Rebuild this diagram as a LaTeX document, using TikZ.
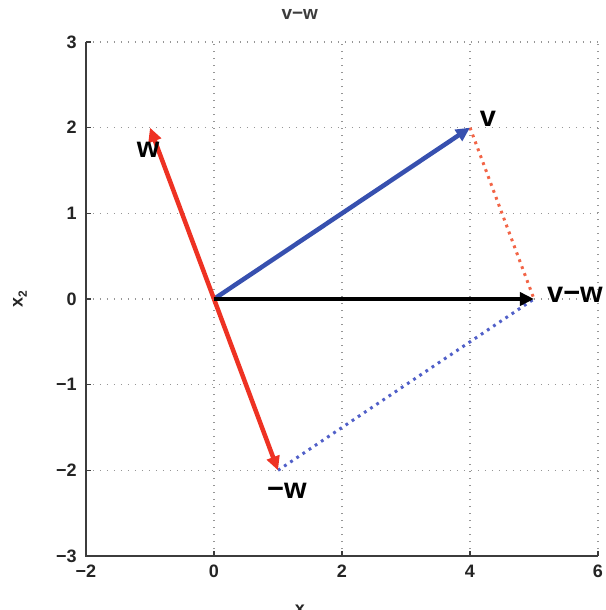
\documentclass[tikz,border=0pt]{standalone}
\usepackage{fontspec}
\setmainfont{Liberation Sans}
\usetikzlibrary{arrows.meta}
\definecolor{vblue}{RGB}{55,80,175}
\definecolor{wred}{RGB}{238,50,35}
\definecolor{dred}{RGB}{242,100,70}
\definecolor{dblue}{RGB}{80,95,200}
\definecolor{axisgray}{RGB}{60,60,60}
\definecolor{gridgray}{RGB}{150,150,150}
\tikzset{
  vec/.style={line width=4.5pt,-{Triangle[length=14pt,width=13pt]}},
  guide/.style={line width=3pt,dash pattern=on 2.8pt off 4.6pt},
  gridline/.style={gridgray,line width=1.2pt,dash pattern=on 1.2pt off 5.8pt},
  axisline/.style={axisgray,line width=1.6pt},
  ticklab/.style={font=\fontsize{18}{18}\selectfont\bfseries,text=axisgray!60!black},
  veclab/.style={font=\fontsize{29}{29}\selectfont\bfseries}
}
\begin{document}
\begin{tikzpicture}[x=64pt,y=85.67pt]
\useasboundingbox (-3.34375,-3.6302) rectangle (6.125,3.4902);
% grid
\foreach \gx in {0,2,4,6} \draw[gridline] (\gx,-3) -- (\gx,3);
\foreach \gy in {-2,-1,0,1,2,3} \draw[gridline] (-2,\gy) -- (6,\gy);
% axes
\draw[axisline] (-2,3) -- (-2,-3) -- (6,-3);
\foreach \gx in {0,2,4,6} \draw[axisline] (\gx,-3) -- ++(0,5pt);
\foreach \gy in {-2,-1,0,1,2,3} \draw[axisline] (-2,\gy) -- ++(5pt,0);
% tick labels
\foreach \gx/\t in {-2/−2,0/0,2/2,4/4,6/6} \node[ticklab,anchor=north] (xt\gx) at (\gx,-3.06) {\t};
\foreach \gy/\t in {-3/−3,-2/−2,-1/−1,0/0,1/1,2/2,3/3} \node[ticklab,anchor=east] (yt\gy) at (-2.09,\gy) {\t};
% axis labels and title
\node[font=\fontsize{19}{19}\selectfont\bfseries,text=axisgray] (title) at (1.34,3.32) {v−w};
\node[ticklab,rotate=90] (ylab) at (-3.03,0) {x\raisebox{-0.45ex}{\fontsize{12}{12}\selectfont 2}};
\node[ticklab,anchor=north] (xlab) at (1.34,-3.53) {x};
% points
\coordinate (O) at (0,0);
\coordinate (V) at (4,2);
\coordinate (W) at (-1,2);
\coordinate (MW) at (1,-2);
\coordinate (D) at (5,0);
% guides
\draw[guide,dred] (V) -- (D);
\draw[guide,dblue] (MW) -- (D);
% vectors
\draw[vec,vblue] (O) -- (V);
\draw[vec,wred] (O) -- (W);
\draw[vec,wred] (O) -- (MW);
\draw[vec,black] (O) -- (D);
% labels
\node[veclab] (lv) at (4.28,2.1) {v};
\node[veclab] (lw) at (-1.03,1.74) {w};
\node[veclab] (ld) at (5.64,0.05) {v−w};
\node[veclab] (lmw) at (1.14,-2.24) {−w};
\end{tikzpicture}
\end{document}
